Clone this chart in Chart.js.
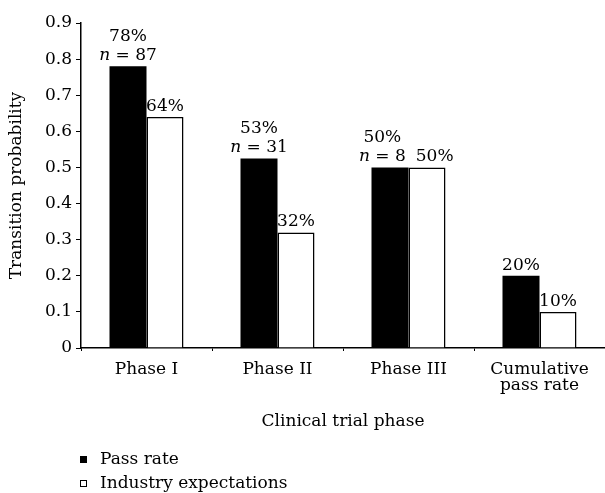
<!DOCTYPE html>
<html>
<head>
<meta charset="utf-8">
<script src="https://cdn.jsdelivr.net/npm/chart.js@4"></script>
<style>
  html, body { margin: 0; padding: 0; background: #fff; }
  #wrap { width: 605px; height: 493px; }
</style>
</head>
<body>
<div id="wrap"><canvas id="chart"></canvas></div>
<script>
const categories = [["Phase I"], ["Phase II"], ["Phase III"], ["Cumulative", "pass rate"]];
const passRate = [0.78, 0.525, 0.5, 0.2];
const industry = [0.64, 0.32, 0.5, 0.1];
const passLabels = ["78%", "53%", "50%", "20%"];
const passCounts = ["87", "31", "8", null];
const industryLabels = ["64%", "32%", "50%", "10%"];
const yTicks = [0, 0.1, 0.2, 0.3, 0.4, 0.5, 0.6, 0.7, 0.8, 0.9];

const FONT = "'DejaVu Serif', 'Liberation Serif', serif";
const FS = 17;

// labels over the bars, x title and the legend
const extras = {
    id: 'extras',
    afterDatasetsDraw(chart) {
        const ctx = chart.ctx;
        const reg = FS + 'px ' + FONT, ital = 'italic ' + FS + 'px ' + FONT;
        ctx.save();
        ctx.fillStyle = '#000';
        ctx.textBaseline = 'alphabetic';

        const m0 = chart.getDatasetMeta(0);
        const m1 = chart.getDatasetMeta(1);
        m0.data.forEach((bar, i) => {
            const other = m1.data[i];
            let y = bar.y - 6;
            const yInd = other.y - 6;
            let wa = 0, wb = 0;
            const b = passCounts[i] ? ' = ' + passCounts[i] : '';
            if (passCounts[i]) {
                ctx.font = ital;
                wa = ctx.measureText('n').width;
                ctx.font = reg;
                wb = ctx.measureText(b).width;
            }
            ctx.font = reg;
            const wTop = ctx.measureText(passLabels[i]).width;
            const wInd = ctx.measureText(industryLabels[i]).width;
            // push the two label groups apart if they sit on one line
            const lowW = passCounts[i] ? wa + wb : wTop;
            let shift = 0;
            if (Math.abs(y - yInd) < 18) {
                const over = (bar.x + lowW / 2 + 10) - (other.x - wInd / 2);
                if (over > 0) shift = over / 2;
            }
            const px = bar.x - shift;
            if (passCounts[i]) {
                const x0 = px - (wa + wb) / 2;
                ctx.textAlign = 'left';
                ctx.font = ital;
                ctx.fillText('n', x0, y);
                ctx.font = reg;
                ctx.fillText(b, x0 + wa, y);
                y -= 19;
            }
            ctx.textAlign = 'center';
            ctx.fillText(passLabels[i], px, y);
            ctx.fillText(industryLabels[i], other.x + shift, yInd);
        });

        // x axis title
        const area = chart.chartArea;
        ctx.font = reg;
        ctx.textAlign = 'center';
        ctx.textBaseline = 'middle';
        ctx.fillText('Clinical trial phase', (area.left + area.right) / 2, 422);

        // legend
        ctx.textAlign = 'left';
        const items = [['Pass rate', '#000'], ['Industry expectations', '#fff']];
        items.forEach((it, k) => {
            const y = 460 + k * 24;
            ctx.fillStyle = it[1];
            ctx.fillRect(80.5, y - 3.5, 6, 6);
            ctx.strokeStyle = '#000';
            ctx.lineWidth = 1;
            ctx.strokeRect(80.5, y - 3.5, 6, 6);
            ctx.fillStyle = '#000';
            ctx.fillText(it[0], 100, y);
        });
        ctx.restore();
    }
};

new Chart(document.querySelector('#chart'), {
    type: 'bar',
    data: {
        labels: categories,
        datasets: [
            {
                label: 'Pass rate',
                data: passRate,
                backgroundColor: '#000',
                borderWidth: 0,
            },
            {
                label: 'Industry expectations',
                data: industry,
                backgroundColor: '#fff',
                borderColor: '#000',
                borderWidth: 1.5,
            },
        ],
    },
    options: {
        responsive: true,
        maintainAspectRatio: false,
        animation: false,
        devicePixelRatio: 1,
        layout: { padding: { top: 23, right: 0, left: 0, bottom: 0 } },
        datasets: { bar: { categoryPercentage: 0.565, barPercentage: 1 } },
        plugins: {
            legend: { display: false },
            tooltip: { enabled: false },
        },
        scales: {
            x: {
                grid: { display: true, drawOnChartArea: false, color: '#000', tickLength: 3, offset: true },
                border: { color: '#000', width: 1.5 },
                ticks: { color: '#000', font: { family: FONT, size: FS, lineHeight: 0.97 }, padding: 10, maxRotation: 0, autoSkip: false },
                afterFit: (s) => { s.height = 493 - 348; },
            },
            y: {
                min: 0,
                max: 0.9,
                afterBuildTicks: (s) => { s.ticks = yTicks.map(v => ({ value: v })); },
                grid: { display: true, drawOnChartArea: false, color: '#000', tickLength: 5 },
                border: { color: '#000', width: 1.5 },
                ticks: {
                    color: '#000',
                    font: { family: FONT, size: FS },
                    padding: 4,
                    callback: (v) => v === 0 ? '0' : v.toFixed(1),
                },
                title: {
                    display: true,
                    text: 'Transition probability',
                    color: '#000',
                    font: { family: FONT, size: FS },
                    padding: { top: 6, bottom: 0 },
                },
                afterFit: (s) => { s.width = 81; },
            },
        },
    },
    plugins: [extras],
});
</script>
</body>
</html>
